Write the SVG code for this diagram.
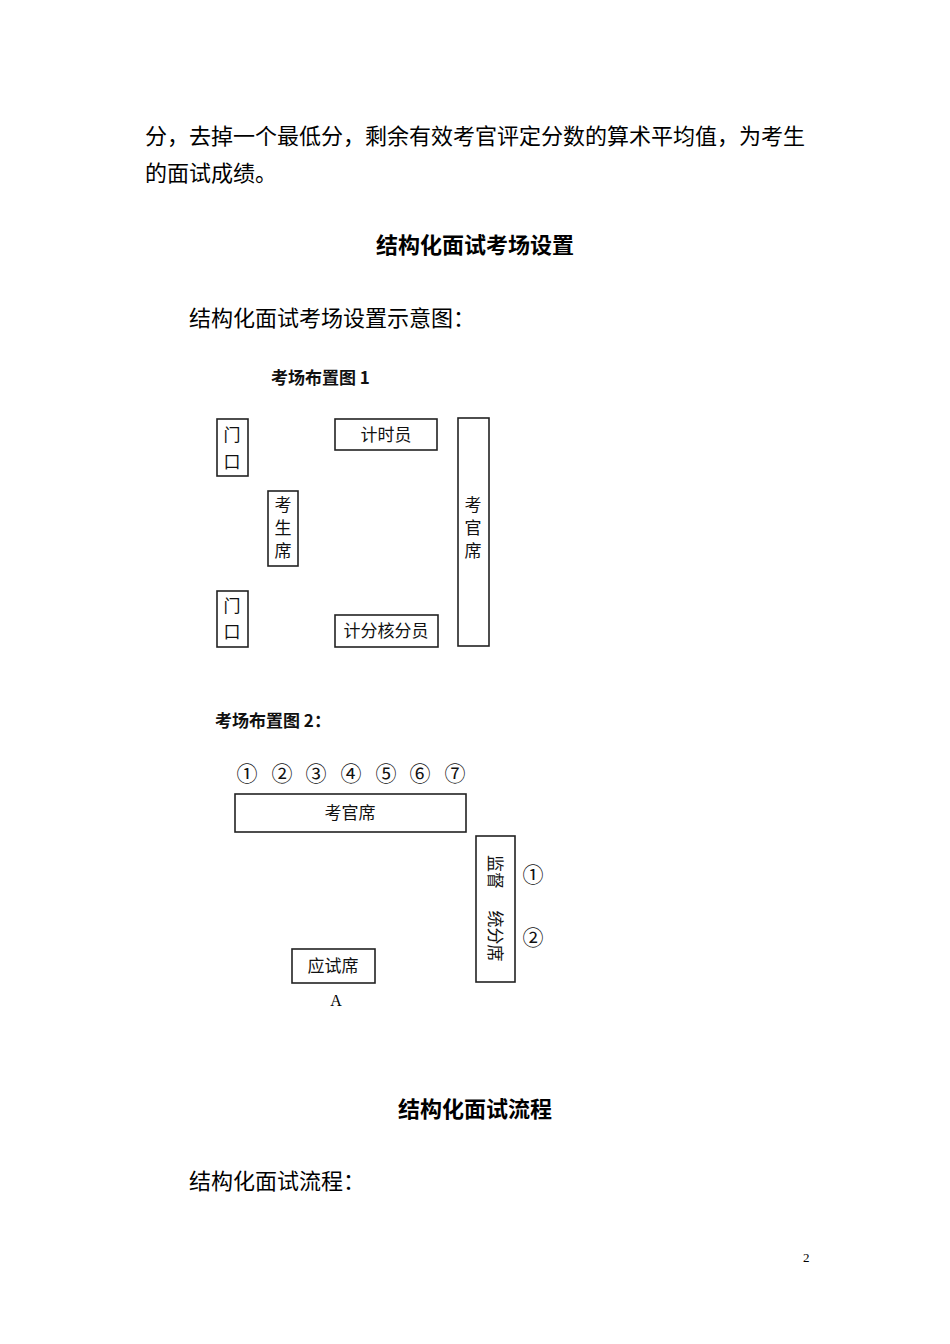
<svg xmlns="http://www.w3.org/2000/svg" width="950" height="1344" viewBox="0 0 950 1344">
<style>
.b{font-family:"Noto Sans CJK SC",sans-serif;font-size:22px;fill:#000}
.h{font-family:"Noto Sans CJK SC",sans-serif;font-size:22px;font-weight:bold;fill:#000;text-anchor:middle}
.d{font-family:"Noto Sans CJK SC",sans-serif;font-size:17px;fill:#111;text-anchor:middle}
.t{font-family:"Noto Sans CJK SC",sans-serif;font-size:17px;font-weight:bold;fill:#111}
.n{font-family:"Noto Sans CJK SC",sans-serif;font-size:21px;fill:#111;text-anchor:middle}
rect{fill:none;stroke:#222;stroke-width:1.6}
</style>
<rect x="0" y="0" width="950" height="1344" style="fill:#fff;stroke:none"/>
<text class="b" x="145" y="144">分，去掉一个最低分，剩余有效考官评定分数的算术平均值，为考生</text>
<text class="b" x="145" y="181">的面试成绩。</text>
<text class="h" x="475" y="253">结构化面试考场设置</text>
<text class="b" x="189" y="326">结构化面试考场设置示意图：</text>
<text class="t" x="271" y="384">考场布置图 1</text>
<g id="door1"><rect x="217" y="419" width="31" height="57"/><text class="d" x="232" y="441">门</text><text class="d" x="232" y="468">口</text></g>
<g id="timer"><rect x="335" y="419" width="102" height="31"/><text class="d" x="386" y="441">计时员</text></g>
<g id="candidate1"><rect x="268" y="491" width="30" height="75"/><text class="d" x="283" y="511">考</text><text class="d" x="283" y="534">生</text><text class="d" x="283" y="557">席</text></g>
<g id="examiner1"><rect x="458" y="418" width="31" height="228"/><text class="d" x="473" y="511">考</text><text class="d" x="473" y="534">官</text><text class="d" x="473" y="557">席</text></g>
<g id="door2"><rect x="217" y="591" width="31" height="56"/><text class="d" x="232" y="612">门</text><text class="d" x="232" y="638">口</text></g>
<g id="scorer"><rect x="335" y="615" width="103" height="32"/><text class="d" x="386" y="637">计分核分员</text></g>
<text class="t" x="215" y="727">考场布置图 2：</text>
<g id="nums" class="n"><text x="247" y="781">①</text><text x="282" y="781">②</text><text x="316" y="781">③</text><text x="351" y="781">④</text><text x="386" y="781">⑤</text><text x="420" y="781">⑥</text><text x="455" y="781">⑦</text></g>
<g id="examiner2"><rect x="235" y="794" width="231" height="38"/><text class="d" x="350" y="819">考官席</text></g>
<g id="supervisor"><rect x="476" y="836" width="39" height="146"/>
<text class="d" transform="translate(495,872) rotate(90)" y="6">监督</text>
<text class="d" transform="translate(495,936) rotate(90)" y="6">统分席</text></g>
<text class="n" x="533" y="882">①</text><text class="n" x="533" y="945">②</text>
<g id="seat"><rect x="292" y="949" width="83" height="34"/><text class="d" x="333" y="972">应试席</text><text x="336" y="1006" style="font-family:'Liberation Serif',serif;font-size:16px;text-anchor:middle">A</text></g>
<text class="h" x="475" y="1117">结构化面试流程</text>
<text class="b" x="189" y="1189">结构化面试流程：</text>
<text x="803" y="1262" style="font-family:'Liberation Serif',serif;font-size:13px">2</text>
</svg>
